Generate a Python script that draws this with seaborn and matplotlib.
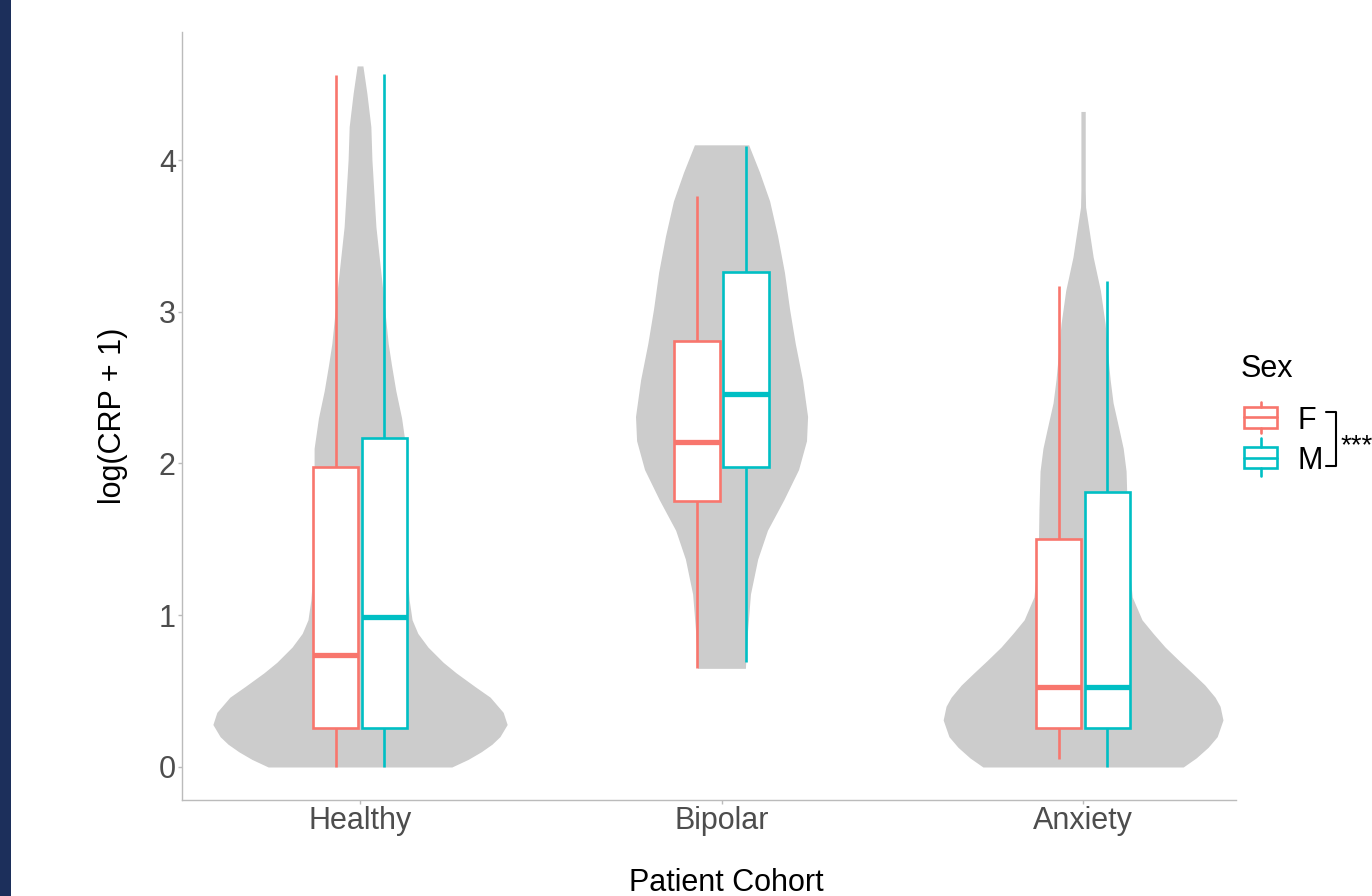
import numpy as np
import pandas as pd
import matplotlib
matplotlib.use("Agg")
import matplotlib.pyplot as plt
import seaborn as sns
from matplotlib.patches import Rectangle
from matplotlib.lines import Line2D

# ---- data -------------------------------------------------------------
cohorts = ["Healthy", "Bipolar", "Anxiety"]
sexes = ["F", "M"]
sex_colors = {"F": "#F8766D", "M": "#00BFC4"}

# five-number summaries (min, Q1, median, Q3, max) of log(CRP + 1)
healthy_f = [0.00, 0.26, 0.74, 1.98, 4.56]
healthy_m = [0.00, 0.26, 0.99, 2.17, 4.57]
bipolar_f = [0.65, 1.75, 2.14, 2.81, 3.76]
bipolar_m = [0.69, 1.98, 2.46, 3.26, 4.09]
anxiety_f = [0.05, 0.26, 0.53, 1.50, 3.17]
anxiety_m = [0.00, 0.26, 0.53, 1.81, 3.20]

# cohort-level density outlines: log(CRP + 1) level and violin half-width
healthy_violin_y = [0.00, 0.05, 0.10, 0.15, 0.20, 0.28, 0.36, 0.46, 0.53, 0.62,
                    0.69, 0.79, 0.88, 0.97, 1.10, 1.30, 1.60, 1.90, 2.10, 2.30,
                    2.48, 2.65, 2.79, 3.12, 3.56, 4.00, 4.22, 4.44, 4.62]
healthy_violin_w = [0.254, 0.299, 0.335, 0.365, 0.387, 0.407, 0.396, 0.360, 0.318, 0.266,
                    0.230, 0.188, 0.160, 0.144, 0.136, 0.130, 0.126, 0.127, 0.127, 0.115,
                    0.099, 0.087, 0.078, 0.064, 0.044, 0.033, 0.030, 0.019, 0.008]

bipolar_violin_y = [0.65, 0.90, 1.14, 1.37, 1.56, 1.76, 1.96, 2.15, 2.31, 2.55,
                    2.79, 3.02, 3.26, 3.50, 3.73, 3.92, 4.10]
bipolar_violin_w = [0.066, 0.072, 0.080, 0.100, 0.127, 0.172, 0.213, 0.235, 0.238, 0.224,
                    0.204, 0.188, 0.174, 0.155, 0.133, 0.105, 0.075]

anxiety_violin_y = [0.00, 0.06, 0.13, 0.20, 0.31, 0.40, 0.46, 0.54, 0.62, 0.70,
                    0.79, 0.88, 0.97, 1.12, 1.40, 1.70, 1.95, 2.10, 2.22, 2.40,
                    2.55, 2.70, 2.92, 3.14, 3.36, 3.58, 3.69, 3.80, 4.00, 4.32]
anxiety_violin_w = [0.277, 0.313, 0.346, 0.371, 0.387, 0.379, 0.365, 0.337, 0.302, 0.266,
                    0.227, 0.194, 0.163, 0.136, 0.124, 0.122, 0.119, 0.111, 0.100, 0.083,
                    0.075, 0.069, 0.061, 0.048, 0.028, 0.014, 0.007, 0.006, 0.006, 0.006]

summaries = {
    ("Healthy", "F"): healthy_f, ("Healthy", "M"): healthy_m,
    ("Bipolar", "F"): bipolar_f, ("Bipolar", "M"): bipolar_m,
    ("Anxiety", "F"): anxiety_f, ("Anxiety", "M"): anxiety_m,
}
df = pd.DataFrame(
    [(c, s, v) for (c, s), vals in summaries.items() for v in vals],
    columns=["cohort", "sex", "crp"],
)
violins = [
    (healthy_violin_y, healthy_violin_w),
    (bipolar_violin_y, bipolar_violin_w),
    (anxiety_violin_y, anxiety_violin_w),
]

# ---- style ------------------------------------------------------------
sns.set_theme(style="white")
plt.rcParams["font.family"] = ["Liberation Sans", "DejaVu Sans"]

W, H = 1372, 896
fig = plt.figure(figsize=(W / 100, H / 100), dpi=100)
fig.patch.set_facecolor("white")
ax = fig.add_axes([182 / W, 1 - 800 / H, (1236 - 182) / W, (800 - 32) / H])

# ---- boxes, one layer per sex so each gets its own outline colour -----
for sex in sexes:
    sns.boxplot(
        data=df[df["sex"] == sex], x="cohort", y="crp", hue="sex",
        order=cohorts, hue_order=sexes, palette={"F": "white", "M": "white"},
        linecolor=sex_colors[sex], linewidth=1.9, width=0.27, gap=0.07,
        whis=(0, 100), dodge=True, showcaps=False, showfliers=False,
        medianprops={"linewidth": 3.8}, legend=False, ax=ax,
    )

# ---- cohort violins underneath ----------------------------------------
for i, (vy, vw) in enumerate(violins):
    vy = np.asarray(vy)
    vw = np.asarray(vw)
    ax.fill_betweenx(vy, i - vw, i + vw, color="#CCCCCC", lw=0, zorder=1)

# ---- axes -------------------------------------------------------------
ax.set_xlim(-0.4924, 2.423)
ax.set_ylim(-0.2175, 4.8435)
ax.set_yticks([0, 1, 2, 3, 4])
ax.set_yticklabels(["0", "1", "2", "3", "4"])
ax.tick_params(axis="both", which="major", labelsize=22, labelcolor="#4D4D4D",
               color="#BBBBBB", length=3, width=1, pad=1.5, left=True, bottom=True)
for side in ("top", "right"):
    ax.spines[side].set_visible(False)
for side in ("left", "bottom"):
    ax.spines[side].set_color("#BBBBBB")
    ax.spines[side].set_linewidth(1.0)

ax.set_xlabel("Patient Cohort", fontsize=22, color="black", labelpad=23)
ax.set_ylabel("log(CRP + 1)", fontsize=22, color="black", labelpad=22)
ax.xaxis.label.set_x((726 - 182) / (1236 - 182))

# ---- legend with significance bracket ---------------------------------
def fx(px):
    return px / W


def fy(py):
    return 1 - py / H


fig.text(fx(1241), fy(377), "Sex", fontsize=22, color="black", ha="left", va="baseline")

keys = [("F", 402, 407, 428, 433, 429), ("M", 438, 447, 468, 476, 469)]
for sex, top, btop, bbot, bot, base in keys:
    col = sex_colors[sex]
    x0, x1 = 1244, 1277
    xm = (x0 + x1) / 2
    fig.add_artist(Rectangle((fx(x0), fy(bbot)), (x1 - x0) / W, (bbot - btop) / H,
                             transform=fig.transFigure, facecolor="white",
                             edgecolor=col, lw=1.9))
    ym = (btop + bbot) / 2
    fig.add_artist(Line2D([fx(x0), fx(x1)], [fy(ym), fy(ym)], transform=fig.transFigure,
                          color=col, lw=1.9))
    fig.add_artist(Line2D([fx(xm), fx(xm)], [fy(top), fy(btop)], transform=fig.transFigure,
                          color=col, lw=1.9))
    fig.add_artist(Line2D([fx(xm), fx(xm)], [fy(bbot), fy(bot)], transform=fig.transFigure,
                          color=col, lw=1.9))
    fig.text(fx(1298), fy(base), sex, fontsize=22, color="black", ha="left", va="baseline")

fig.add_artist(Line2D([fx(1326), fx(1336), fx(1336), fx(1326)],
                      [fy(412), fy(412), fy(466), fy(466)],
                      transform=fig.transFigure, color="black", lw=1.5))
fig.text(fx(1341), fy(453), "***", fontsize=20, color="black", ha="left", va="baseline")

# dark navy strip along the left edge
fig.add_artist(Rectangle((0, 0), 11 / W, 1, transform=fig.transFigure,
                         facecolor="#1C2F5B", edgecolor="none"))

fig.savefig("out.png", dpi=100)
